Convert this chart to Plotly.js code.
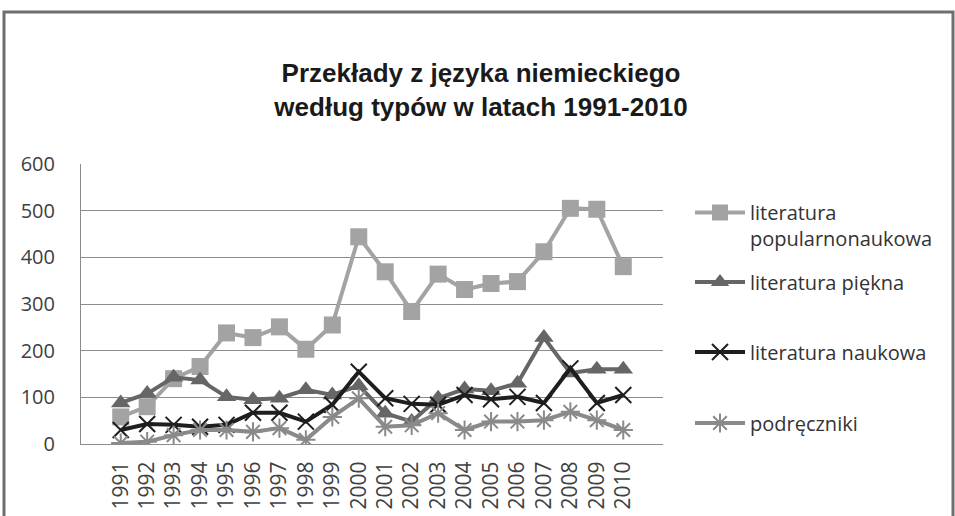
<!DOCTYPE html>
<html>
<head>
<meta charset="utf-8">
<script src="https://cdn.plot.ly/plotly-3.0.1.min.js"></script>
<style>html,body{margin:0;padding:0;background:#fff;}#chart{width:955px;height:516px;}</style>
</head>
<body>
<div id="chart"></div>
<script>
const years = ["1991","1992","1993","1994","1995","1996","1997","1998","1999","2000","2001","2002","2003","2004","2005","2006","2007","2008","2009","2010"];
const popularnonaukowa = [58, 80, 140, 166, 238, 228, 251, 203, 255, 444, 369, 284, 364, 331, 344, 348, 412, 505, 503, 380];
const piekna = [88, 108, 143, 137, 101, 95, 98, 116, 105, 125, 66, 48, 98, 118, 114, 130, 228, 152, 160, 160];
const naukowa = [30, 43, 41, 37, 41, 67, 67, 48, 84, 155, 98, 86, 84, 105, 96, 101, 88, 162, 88, 105];
const podreczniki = [2, 5, 19, 30, 30, 26, 34, 9, 58, 98, 37, 40, 66, 30, 48, 48, 51, 69, 51, 30];
const seriesNames = ["literatura<br>popularnonaukowa", "literatura piękna", "literatura naukowa", "podręczniki"];

const L = 81, R = 663, T = 164, B = 444;
const px = v => (v - L) / (R - L);
const py = v => (B - v) / (B - T);

const traces = [
  {x: years, y: popularnonaukowa, name: seriesNames[0], type: 'scatter', mode: 'lines+markers',
   line: {color: '#a3a3a3', width: 4}, marker: {symbol: 'square', size: 17, color: '#a3a3a3'}, legend: 'legend'},
  {x: years, y: piekna, name: seriesNames[1], type: 'scatter', mode: 'lines+markers',
   line: {color: '#666666', width: 4}, marker: {symbol: 'triangle-up', size: 17, color: '#666666'}, legend: 'legend2'},
  {x: years, y: naukowa, name: seriesNames[2], type: 'scatter', mode: 'lines+markers',
   line: {color: '#1e1e1e', width: 4}, marker: {symbol: 'x-thin-open', size: 16, color: '#1e1e1e', line: {width: 2, color: '#1e1e1e'}}, legend: 'legend3'},
  {x: years, y: podreczniki, name: seriesNames[3], type: 'scatter', mode: 'lines+markers',
   line: {color: '#8a8a8a', width: 4}, marker: {symbol: 'asterisk-open', size: 16, color: '#8a8a8a', line: {width: 2, color: '#8a8a8a'}}, legend: 'legend4'}
];

const legFont = {family: 'Open Sans, sans-serif', size: 20, color: '#333'};
const legBase = {x: px(690), xanchor: 'left', font: legFont, bgcolor: 'rgba(0,0,0,0)', borderwidth: 0, valign: 'top', itemwidth: 50};

const layout = {
  width: 955, height: 516,
  margin: {l: L, r: 955 - R, t: T, b: 516 - B, pad: 0},
  paper_bgcolor: '#fff', plot_bgcolor: '#fff',
  title: {text: '<b>Przekłady z języka niemieckiego<br>według typów w latach 1991-2010</b>',
    font: {family: 'Liberation Sans, Arial, sans-serif', size: 26, color: '#1a1a1a'},
    x: 481/955, xref: 'container', xanchor: 'center', y: 1 - 82/516, yref: 'container', yanchor: 'middle'},
  xaxis: {type: 'category', tickangle: -90, showgrid: false, showline: true, linecolor: '#8c8c8c', linewidth: 1,
    ticks: '', ticklabelstandoff: 8, tickfont: {family: 'Open Sans, sans-serif', size: 21, color: '#404040'}, zeroline: false},
  yaxis: {range: [0, 600], dtick: 100, showgrid: true, gridcolor: '#8c8c8c', gridwidth: 1, showline: true,
    linecolor: '#8c8c8c', linewidth: 1, ticks: '', ticklabelstandoff: 21, zeroline: false,
    tickfont: {family: 'Open Sans, sans-serif', size: 20, color: '#404040'}},
  showlegend: true,
  legend: Object.assign({}, legBase, {y: py(193), yanchor: 'top'}),
  legend2: Object.assign({}, legBase, {y: py(282), yanchor: 'middle'}),
  legend3: Object.assign({}, legBase, {y: py(352), yanchor: 'middle'}),
  legend4: Object.assign({}, legBase, {y: py(423), yanchor: 'middle'}),
  shapes: [
    {type: 'rect', xref: 'paper', yref: 'paper', x0: px(4), x1: px(953), y0: py(540), y1: py(12),
     line: {color: '#6e6e6e', width: 3}, fillcolor: 'rgba(0,0,0,0)', layer: 'below'}
  ]
};

Plotly.newPlot('chart', traces, layout, {displayModeBar: false, staticPlot: true});
</script>
</body>
</html>
